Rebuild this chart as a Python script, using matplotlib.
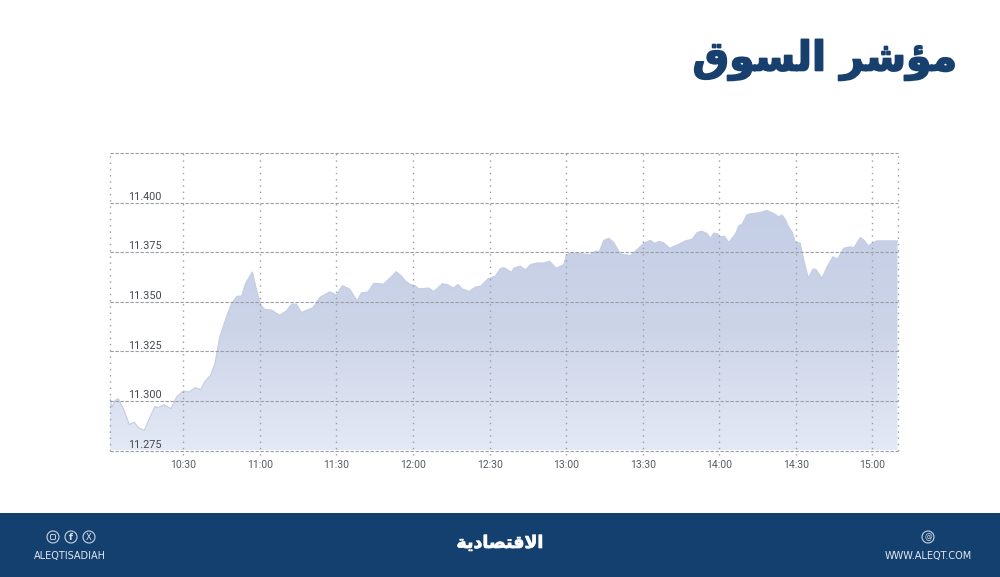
import numpy as np
import matplotlib
matplotlib.use('Agg')
import matplotlib.pyplot as plt
import matplotlib.patheffects as pe
from matplotlib.colors import LinearSegmentedColormap
from matplotlib.patches import Circle, Rectangle, FancyBboxPatch

# minutes after 10:00 and index level
minutes = [1.1, 2.0, 3.3, 4.6, 5.5, 6.8, 8.9, 10.8, 12.4, 14.7, 17.0, 18.9, 20.2, 22.2, 25.2, 27.4,
           30.0, 32.3, 34.6, 36.9, 38.5, 40.7, 42.4, 44.3, 46.7, 48.9, 51.1, 52.8, 54.4, 57.1, 58.7,
           60.4, 61.9, 64.6, 67.8, 70.4, 72.4, 74.3, 76.3, 80.8, 83.5, 87.4, 90.0, 92.3, 95.2, 98.1,
           99.8, 102.4, 104.6, 108.5, 113.4, 115.2, 117.1, 119.1, 120.7, 122.3, 126.3, 128.2, 131.5,
           133.4, 135.8, 137.6, 139.3, 141.9, 144.5, 146.5, 149.4, 152.2, 154.4, 155.7, 158.6, 159.5,
           161.9, 164.1, 166.1, 168.7, 171.2, 173.5, 176.1, 179.1, 180.0, 181.7, 189.5, 191.4, 193.0,
           194.7, 196.7, 198.6, 201.2, 205.1, 207.7, 210.4, 213.0, 214.6, 216.3, 218.0, 220.6, 224.1,
           226.7, 229.3, 231.3, 233.2, 235.2, 236.5, 237.8, 239.1, 240.4, 242.0, 243.7, 246.3, 247.6,
           248.9, 250.8, 252.1, 253.7, 256.0, 258.6, 261.9, 263.2, 264.5, 265.8, 267.1, 268.6, 269.7,
           271.7, 273.0, 274.9, 276.6, 277.8, 280.2, 282.1, 284.5, 286.3, 288.7, 291.2, 292.8, 295.2,
           296.7, 298.4, 299.7, 301.7, 309.8]
levels = [11302.8, 11296.9, 11300.3, 11301.1, 11298.6, 11295.2, 11288.1, 11289.3, 11286.5, 11285.1,
          11291.9, 11297.2, 11296.6, 11298.1, 11296.1, 11302.0, 11305.0, 11304.5, 11306.7, 11305.8,
          11310.0, 11312.9, 11318.8, 11332.3, 11341.6, 11349.1, 11352.8, 11352.8, 11359.3, 11365.1,
          11355.9, 11348.3, 11346.1, 11345.8, 11343.2, 11345.4, 11348.8, 11348.8, 11344.6, 11347.0,
          11352.2, 11355.0, 11353.4, 11358.1, 11356.4, 11350.5, 11354.5, 11355.0, 11359.3, 11358.9,
          11365.1, 11363.3, 11360.4, 11358.6, 11358.2, 11356.5, 11356.9, 11355.2, 11359.1, 11358.7,
          11356.9, 11358.7, 11356.5, 11355.2, 11357.4, 11357.9, 11361.6, 11362.9, 11366.9, 11367.1,
          11364.9, 11366.9, 11368.0, 11366.1, 11368.8, 11369.6, 11369.5, 11370.5, 11366.9, 11368.8,
          11373.3, 11374.7, 11373.8, 11375.5, 11375.3, 11380.9, 11382.0, 11380.0, 11374.2, 11373.3,
          11376.2, 11379.5, 11381.0, 11379.4, 11380.4, 11379.9, 11377.0, 11379.0, 11380.7, 11381.5,
          11384.9, 11385.6, 11384.4, 11382.0, 11384.6, 11384.4, 11382.7, 11383.1, 11379.9, 11384.1,
          11388.3, 11389.1, 11393.8, 11394.3, 11394.6, 11395.0, 11396.1, 11394.1, 11392.8, 11393.8,
          11391.6, 11387.9, 11384.9, 11380.2, 11379.5, 11371.5, 11361.9, 11366.4, 11366.4, 11361.9,
          11367.3, 11372.7, 11371.5, 11377.0, 11377.7, 11377.3, 11382.4, 11381.0, 11378.2, 11379.4,
          11380.7, 11380.7]

time_ticks = [30, 60, 90, 120, 150, 180, 210, 240, 270, 300]
time_labels = ['10:30', '11:00', '11:30', '12:00', '12:30', '13:00', '13:30', '14:00', '14:30', '15:00']
level_ticks = [11275, 11300, 11325, 11350, 11375, 11400, 11425]
level_labels = ['11.275', '11.300', '11.325', '11.350', '11.375', '11.400']

# Arabic typed as presentation forms in visual order, matplotlib has no shaping
title = '\ufed5\ufeee\ufeb4\ufedf\ufe8d \ufeae\ufeb7\ufe86\ufee3'
logo = '\ufe94\ufef3\ufea9\ufe8e\ufebc\ufe98\ufed7\ufefb\ufe8d'

W, H = 1000, 577
NAVY = '#14406f'
GRID = '#9c9da4'

fig = plt.figure(figsize=(W / 100, H / 100), dpi=100, facecolor='white')
ax = fig.add_axes([109.5 / W, 1 - 450.5 / H, 788 / W, 297.5 / H])

# area with vertical fade, clipped to the data outline
cmap = LinearSegmentedColormap.from_list('fade', ['#e4e9f5', '#ccd4e8', '#c4cee5'])
outline = ax.fill_between(minutes, levels, 11275, color='none')
grad = ax.imshow(np.linspace(1, 0, 256).reshape(-1, 1), cmap=cmap, aspect='auto',
                 extent=[1.1, 309.8, 11275, 11397], zorder=1, vmin=0, vmax=1)
grad.set_clip_path(outline.get_paths()[0], transform=ax.transData)
ax.plot(minutes, levels, color='#c3cde4', lw=0.8, zorder=2)
ax.set_xlim(1.1, 309.8)
ax.set_ylim(11275, 11425)

for v in level_ticks:
    ax.axhline(v, color=GRID, lw=0.8, ls=(0, (3, 1.5)), zorder=3, clip_on=False)
for m in time_ticks:
    ax.plot([m, m], [11272.5, 11425], color=GRID, lw=1, ls=(0, (1, 3.5)), zorder=3, clip_on=False)
for m in [1.1, 309.8]:
    ax.axvline(m, color=GRID, lw=1, ls=(0, (1, 3.5)), zorder=3, clip_on=False)

for spine in ax.spines.values():
    spine.set_visible(False)
ax.set_yticks([])
ax.set_xticks(time_ticks)
ax.set_xticklabels(time_labels, fontsize=7.5, family='Roboto', color='#555a60')
ax.tick_params(axis='x', length=0, pad=7)

for v, lab in zip(level_ticks, level_labels):
    ax.annotate(lab, xy=(145 / W, v), xycoords=('figure fraction', 'data'), xytext=(0, 0.5),
                textcoords='offset points', ha='center', va='bottom', fontsize=7.8,
                family='Roboto', color='#44484e', zorder=4)

# page furniture in pixel coordinates
page = fig.add_axes([0, 0, 1, 1], zorder=5)
page.set_xlim(0, W)
page.set_ylim(H, 0)
page.axis('off')
page.patch.set_alpha(0)

t = page.text(825, 60, title, ha='center', va='center', fontsize=29.5, fontweight='bold',
              family='DejaVu Sans', color='#17406e')
t.set_path_effects([pe.withStroke(linewidth=1.2, foreground='#17406e')])

page.add_patch(Rectangle((0, 513), W, 64, color=NAVY, lw=0))
t = page.text(500, 543, logo, ha='center', va='center', fontsize=12.5, fontweight='bold',
              family='DejaVu Sans', color='white')
t.set_path_effects([pe.withStroke(linewidth=0.5, foreground='white')])
page.text(70, 556, 'ALEQTISADIAH', ha='center', va='center', fontsize=7, color='#e4e9f0',
          family='DejaVu Sans')
page.text(928, 556, 'WWW.ALEQT.COM', ha='center', va='center', fontsize=7, color='#e4e9f0',
          family='DejaVu Sans')

for cx in [53, 71, 89, 928]:
    page.add_patch(Circle((cx, 537), 6, fill=False, ec='#c9d3e0', lw=0.8))
page.add_patch(FancyBboxPatch((50.5, 534.5), 5, 5, boxstyle='round,pad=0,rounding_size=1.2',
                              fill=False, ec='#c9d3e0', lw=0.7))
page.text(71, 537, 'f', ha='center', va='center', fontsize=6.5, fontweight='bold', color='#dfe5ee')
page.text(89, 537, 'X', ha='center', va='center', fontsize=6, color='#dfe5ee')
page.text(928, 537, '@', ha='center', va='center', fontsize=5.5, color='#dfe5ee')

fig.savefig('out.png', dpi=100)
